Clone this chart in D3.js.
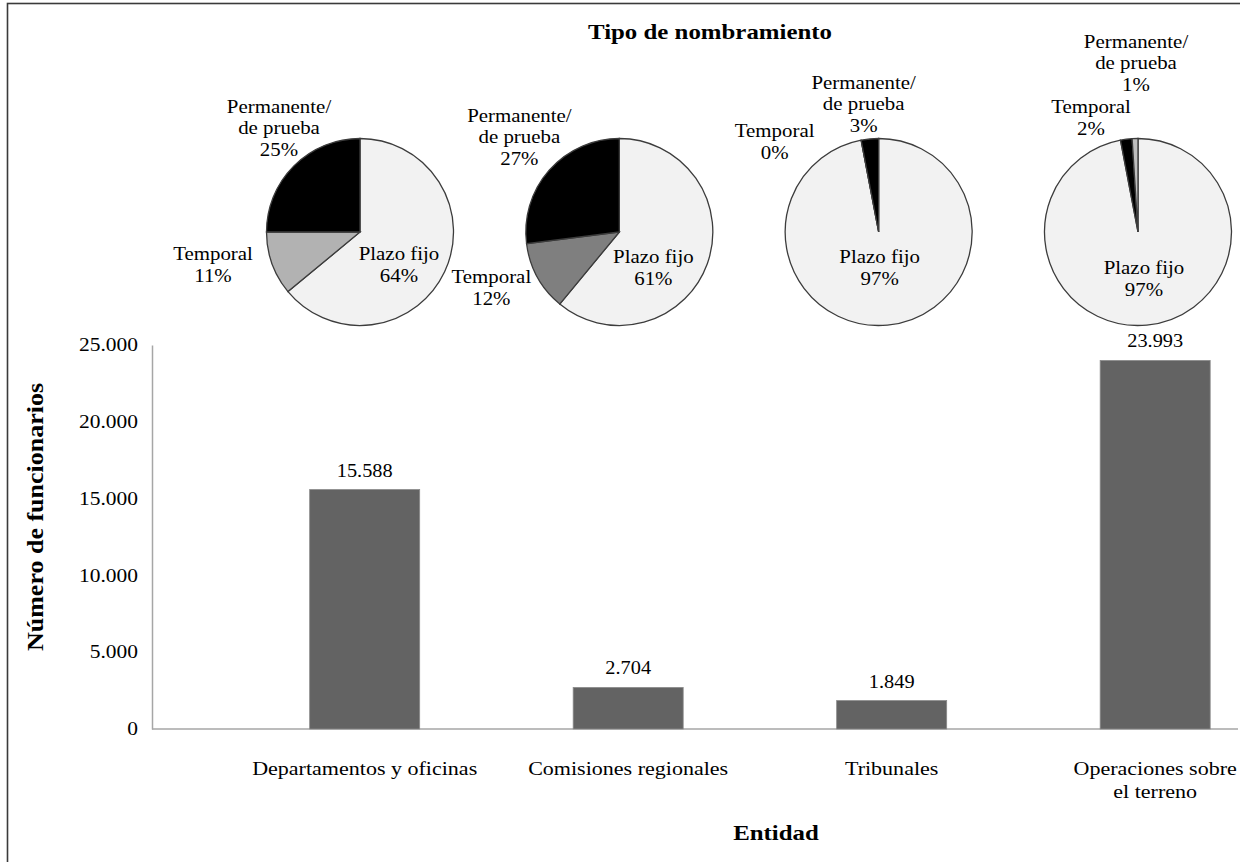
<!DOCTYPE html>
<html>
<head>
<meta charset="utf-8">
<script src="https://cdn.jsdelivr.net/npm/d3@7/dist/d3.min.js"></script>
<style>
  body { margin: 0; background: #fff; }
  svg text { font-family: "Liberation Serif", "Times New Roman", serif; fill: #000; }
</style>
</head>
<body>
<svg id="chart" width="1240" height="862"></svg>
<script>

// --- data ---
var categories = [ 'Departamentos y oficinas', 'Comisiones regionales', 'Tribunales', 'Operaciones sobre el terreno' ];
var staffCounts = [ 15588, 2704, 1849, 23993 ];
var yTicks = [ 0, 5000, 10000, 15000, 20000, 25000 ];

// appointment type shares (%) per entity
var plazoFijo = [ 64, 61, 97, 97 ];
var temporal = [ 11, 12, 0, 2 ];
var permanente = [ 25, 27, 3, 1 ];
var sliceLabels = [ [ 'Plazo fijo' ], [ 'Temporal' ], [ 'Permanente/', 'de prueba' ] ];

// --- styling / layout ---
var pieColors = [
    [ '#f2f2f2', '#b2b2b2', '#000000' ],
    [ '#f2f2f2', '#7f7f7f', '#000000' ],
    [ '#f2f2f2', '#a5a5a5', '#000000' ],
    [ '#f2f2f2', '#000000', '#bfbfbf' ]
];
// label block centres, relative to each pie centre: [plazo, temporal, permanente]
var pieLabelOffsets = [
    [ [ 39, 33 ], [ -147, 33 ], [ -81, -104 ] ],
    [ [ 34, 36 ], [ -128, 56 ], [ -100, -95 ] ],
    [ [ 1, 36 ], [ -104, -90 ], [ -15, -128 ] ],
    [ [ 6, 47 ], [ -47, -114 ], [ -2, -169 ] ]
];

var SX = 1.13,          // the reference glyphs are a little wider than Times
    pieRadius = 93.5,
    pieY = 232,
    lineH = 21.5;

var fmt = d3.formatLocale( { decimal: ',', thousands: '.', grouping: [ 3 ], currency: [ '', '' ] } ).format( ',d' );

var svg = d3.select( '#chart' );

// frame (cropped on right / bottom)
svg.append( 'rect' )
    .attr( 'x', 7.5 ).attr( 'y', 3.5 )
    .attr( 'width', 1300 ).attr( 'height', 900 )
    .attr( 'fill', 'none' )
    .attr( 'stroke', '#3a3a3a' )
    .attr( 'stroke-width', 1.6 );

/**
 * text block, lines centred around (x, y) unless baseline is given
 */
function addText( x, y, lines, size, opts ) {
    opts = opts || {};
    var rot = opts.rotate ? ' rotate(' + opts.rotate + ')' : '',
        lh = opts.lineH || lineH,
        t = svg.append( 'text' )
            .attr( 'transform', 'translate(' + x + ',' + y + ')' + rot + ' scale(' + SX + ',1)' )
            .attr( 'text-anchor', opts.anchor || 'middle' )
            .style( 'font-size', size + 'px' )
            .style( 'font-weight', opts.bold ? 'bold' : 'normal' );
    var first = opts.baseline ? 0 : -( lines.length - 1 ) * lh / 2 + size * 0.33;
    lines.forEach( function( l, i ) {
        t.append( 'tspan' )
            .attr( 'x', 0 )
            .attr( 'y', first + i * lh )
            .text( l );
    } );
    return t;
}

// --- scales ---
var x = d3.scaleBand()
    .domain( categories )
    .range( [ 152, 1238 ] )
    .paddingInner( 0.5825 )
    .paddingOuter( 0.352 )
    .align( 0.85 );

var y = d3.scaleLinear()
    .domain( [ 0, 25000 ] )
    .range( [ 729, 345 ] );

var pieX = d3.scalePoint()
    .domain( categories )
    .range( [ 360, 1138 ] );

// --- axes ---
var yAxis = svg.append( 'g' )
    .attr( 'transform', 'translate(152,0)' )
    .call( d3.axisLeft( y ).tickValues( yTicks ).tickSize( 0 ).tickPadding( 14 ).tickFormat( fmt ) );
yAxis.select( '.domain' ).attr( 'stroke', '#a6a6a6' ).attr( 'stroke-width', 1.5 );
yAxis.selectAll( '.tick text' ).remove();
yTicks.forEach( function( v ) {
    addText( 138, y( v ), [ fmt( v ) ], 19, { anchor: 'end' } );
} );

svg.append( 'line' )
    .attr( 'x1', 152 ).attr( 'x2', 1238 )
    .attr( 'y1', y( 0 ) ).attr( 'y2', y( 0 ) )
    .attr( 'stroke', '#a6a6a6' )
    .attr( 'stroke-width', 1.5 );

// --- bars ---
svg.selectAll( 'rect.bar' )
    .data( staffCounts )
    .enter()
    .append( 'rect' )
    .attr( 'class', 'bar' )
    .attr( 'x', function( d, i ) { return x( categories[ i ] ); } )
    .attr( 'y', function( d ) { return y( d ); } )
    .attr( 'width', x.bandwidth() )
    .attr( 'height', function( d ) { return y( 0 ) - y( d ); } )
    .attr( 'fill', '#636363' )
    .attr( 'stroke', '#8a8a8a' )
    .attr( 'stroke-width', 0.8 );

staffCounts.forEach( function( v, i ) {
    addText( x( categories[ i ] ) + x.bandwidth() / 2, y( v ) - 13, [ fmt( v ) ], 18, { baseline: true } );
} );

// category labels: only wrapped when too wide, then broken greedily on a narrower width
function wrapWords( str, size, maxW ) {
    var probe = svg.append( 'text' ).style( 'font-size', size + 'px' ),
        words = str.split( ' ' ),
        lines = [],
        cur = '',
        lineW = maxW * 0.76;
    probe.text( str );
    if ( probe.node().getComputedTextLength() * SX <= maxW ) {
        probe.remove();
        return [ str ];
    }
    words.forEach( function( w ) {
        var test = cur ? cur + ' ' + w : w;
        probe.text( test );
        if ( cur && probe.node().getComputedTextLength() * SX > lineW ) {
            lines.push( cur );
            cur = w;
        } else {
            cur = test;
        }
    } );
    lines.push( cur );
    probe.remove();
    return lines;
}

categories.forEach( function( c, i ) {
    addText( x( c ) + x.bandwidth() / 2, 775, wrapWords( c, 19.5, 230 ), 19.5, { baseline: true, lineH: 23 } );
} );

// --- titles ---
addText( 710, 39, [ 'Tipo de nombramiento' ], 22, { bold: true, baseline: true } );
addText( 776, 840, [ 'Entidad' ], 22, { bold: true, baseline: true } );
addText( 43, 517, [ 'Número de funcionarios' ], 23, { bold: true, baseline: true, rotate: -90 } );

// --- pies ---
var pie = d3.pie().sort( null ).value( function( d ) { return d; } ),
    arc = d3.arc().innerRadius( 0 ).outerRadius( pieRadius );

categories.forEach( function( c, i ) {
    var shares = [ plazoFijo[ i ], temporal[ i ], permanente[ i ] ],
        cx = pieX( c ),
        g = svg.append( 'g' ).attr( 'transform', 'translate(' + cx + ',' + pieY + ')' );

    g.selectAll( 'path' )
        .data( pie( shares ) )
        .enter()
        .append( 'path' )
        .attr( 'd', arc )
        .attr( 'fill', function( d, j ) { return pieColors[ i ][ j ]; } )
        .attr( 'stroke', '#3c3c3c' )
        .attr( 'stroke-width', 1.3 );

    shares.forEach( function( v, j ) {
        var off = pieLabelOffsets[ i ][ j ];
        addText( cx + off[ 0 ], pieY + off[ 1 ], sliceLabels[ j ].concat( [ v + '%' ] ), 18.5 );
    } );
} );

</script>
</body>
</html>
